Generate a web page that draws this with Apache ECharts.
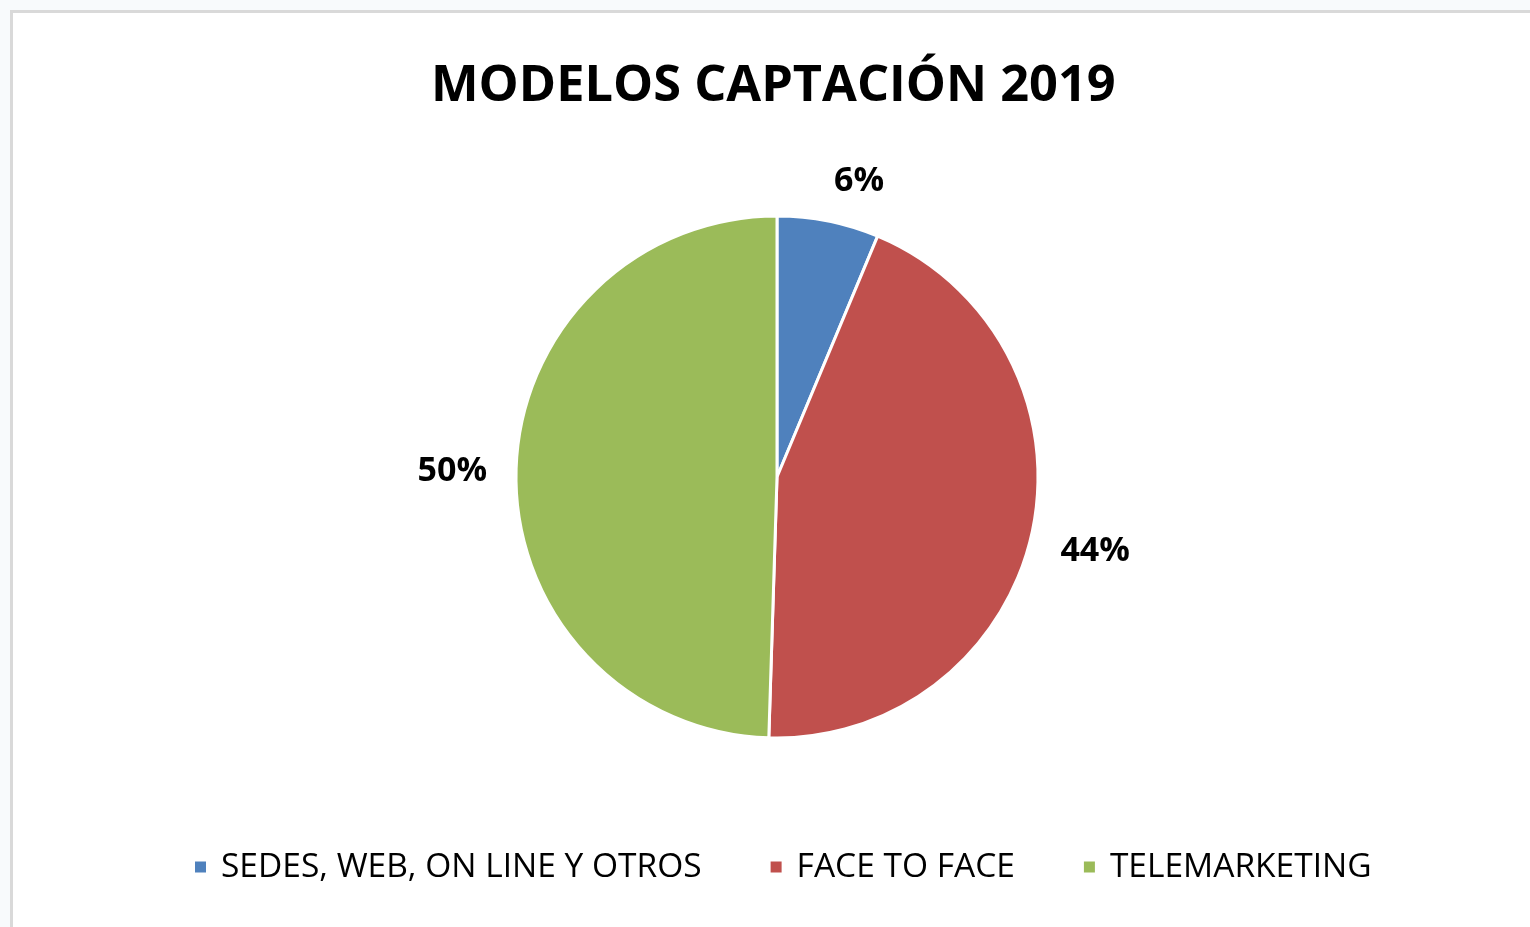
<!DOCTYPE html>
<html>
<head>
<meta charset="utf-8">
<title>Modelos captación 2019</title>
<script src="https://cdn.jsdelivr.net/npm/echarts@6/dist/echarts.min.js"></script>
<style>
  html, body { margin: 0; padding: 0; background: #f8fafc; }
  #frame {
    position: absolute; left: 10px; top: 10px; width: 1520px; height: 917px;
    background: #ffffff; border-top: 3px solid #d9d9d9; border-left: 3px solid #d9d9d9;
    box-sizing: border-box;
  }
  #main { position: absolute; left: 0; top: 0; width: 1530px; height: 927px; }
</style>
</head>
<body>
<div id="frame"></div>
<div id="main"></div>
<script>
// datos
const categories = ['SEDES, WEB, ON LINE Y OTROS', 'FACE TO FACE', 'TELEMARKETING']
const shares = [6.3, 44.2, 49.5]
const colors = ['#4f81bd', '#c0504d', '#9bbb59']

const pieCenter = [777, 477]
const pieRadius = 261
const labelGap = 29 // distancia de la esquina de la etiqueta al borde (tipo "extremo externo" de Excel)

const chart = echarts.init(document.getElementById('main'))

// ángulo medio de cada porción, desde las 12 en sentido horario
const total = shares.reduce((a, b) => a + b, 0)
function midAngle(i) {
  let before = 0
  for (let k = 0; k < i; k++) before += shares[k]
  return (before + shares[i] / 2) / total * Math.PI * 2
}

function clamp(v) {
  return Math.max(-1, Math.min(1, v))
}

const option = {
  backgroundColor: 'transparent',
  color: colors,
  title: {
    text: 'MODELOS CAPTACIÓN 2019',
    left: 426,
    top: 56,
    textStyle: {
      fontFamily: 'Open Sans',
      fontWeight: 'bold',
      fontSize: 50.5,
      color: '#000000'
    }
  },
  legend: {
    bottom: 38,
    left: 188,
    itemWidth: 13,
    itemHeight: 13,
    itemGap: 67,
    icon: 'rect',
    data: categories,
    textStyle: {
      fontFamily: 'Open Sans',
      fontSize: 33.5,
      color: '#000000',
      padding: [0, 0, 0, 9]
    }
  },
  series: [
    {
      type: 'pie',
      center: pieCenter,
      radius: pieRadius,
      startAngle: 90,
      clockwise: true,
      silent: true,
      itemStyle: {
        borderColor: '#ffffff',
        borderWidth: 3
      },
      label: {
        show: true,
        position: 'outside',
        fontFamily: 'Open Sans',
        fontWeight: 'bold',
        fontSize: 34,
        color: '#000000',
        formatter: function (p) {
          return Math.round(p.value) + '%'
        }
      },
      labelLine: { show: false },
      // la esquina de la etiqueta más cercana al centro queda sobre el radio medio
      labelLayout: function (params) {
        const a = midAngle(params.dataIndex)
        const ux = Math.sin(a)
        const uy = -Math.cos(a)
        const w = params.labelRect.width
        const h = 24
        const r = pieRadius + labelGap
        return {
          x: pieCenter[0] + ux * r + clamp(ux / 0.1) * w / 2,
          y: pieCenter[1] + uy * r + clamp(uy / 0.1) * h / 2 + 1,
          align: 'center',
          verticalAlign: 'middle'
        }
      },
      data: categories.map(function (name, i) {
        return { name: name, value: shares[i] }
      })
    }
  ]
}

chart.setOption(option)
</script>
</body>
</html>
